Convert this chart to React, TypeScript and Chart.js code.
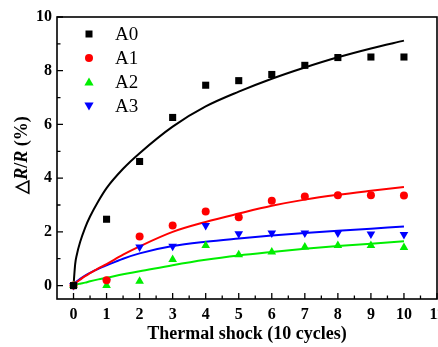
import React, { useEffect, useRef } from 'react';
import { Chart, registerables } from 'chart.js';

Chart.register(...registerables);

// ---- data ----
const cycles = [0, 1, 2, 3, 4, 5, 6, 7, 8, 9, 10];
const seriesA0 = [0, 2.47, 4.62, 6.26, 7.46, 7.63, 7.86, 8.2, 8.49, 8.51, 8.51];
const seriesA1 = [0, 0.2, 1.83, 2.24, 2.76, 2.54, 3.16, 3.32, 3.36, 3.36, 3.35];
const seriesA2 = [0, 0, 0.16, 0.97, 1.49, 1.15, 1.25, 1.44, 1.49, 1.49, 1.42];
const seriesA3 = [0, 0.16, 1.44, 1.46, 2.24, 1.93, 1.96, 1.96, 1.96, 1.92, 1.9];

const fitX = [0, 0.05, 0.1, 0.2, 0.35, 0.5, 0.75, 1, 1.5, 2, 3, 4, 5, 6, 7, 8, 9, 10];
const fitA0 = [0, 0.8, 1.15, 1.62, 2.15, 2.57, 3.14, 3.63, 4.35, 4.93, 5.92, 6.67, 7.22, 7.7, 8.12, 8.5, 8.83, 9.12];
const fitA1 = [0, 0.08, 0.13, 0.22, 0.35, 0.46, 0.64, 0.8, 1.15, 1.46, 2.0, 2.37, 2.68, 2.97, 3.2, 3.38, 3.53, 3.67];
const fitA2 = [0, 0.02, 0.04, 0.07, 0.11, 0.16, 0.23, 0.29, 0.42, 0.53, 0.76, 0.96, 1.12, 1.25, 1.37, 1.47, 1.56, 1.65];
const fitA3 = [0, 0.1, 0.16, 0.25, 0.37, 0.47, 0.62, 0.75, 1.0, 1.2, 1.47, 1.63, 1.75, 1.86, 1.96, 2.04, 2.12, 2.2];

const seriesNames = ['A0', 'A1', 'A2', 'A3'];
const seriesColors = ['#000000', '#ff0000', '#00ee00', '#0000ff'];
const xTickValues = [0, 1, 2, 3, 4, 5, 6, 7, 8, 9, 10, 11];
const yTickValues = [0, 2, 4, 6, 8, 10];
const xMinorTicks = [0.5, 1.5, 2.5, 3.5, 4.5, 5.5, 6.5, 7.5, 8.5, 9.5, 10.5];
const yMinorTicks = [1, 3, 5, 7, 9];
const xTitle = 'Thermal shock (10 cycles)';

const FONT = '"Liberation Serif", "Times New Roman", serif';
const CANVAS_W = 442;
const CANVAS_H = 347;

const toPts = (xs: number[], ys: number[]) => xs.map((x, i) => ({ x, y: ys[i] }));

function drawMarker(ctx: CanvasRenderingContext2D, kind: number, x: number, y: number, color: string) {
  ctx.fillStyle = color;
  ctx.beginPath();
  if (kind === 0) {
    ctx.rect(x - 3.5, y - 3.5, 7, 7);
  } else if (kind === 1) {
    ctx.arc(x, y, 4, 0, Math.PI * 2);
  } else if (kind === 2) {
    ctx.moveTo(x, y - 4.6);
    ctx.lineTo(x + 4.6, y + 3.4);
    ctx.lineTo(x - 4.6, y + 3.4);
    ctx.closePath();
  } else {
    ctx.moveTo(x, y + 4.6);
    ctx.lineTo(x + 4.6, y - 3.4);
    ctx.lineTo(x - 4.6, y - 3.4);
    ctx.closePath();
  }
  ctx.fill();
}

const framePlugin = {
  id: 'frameDecor',
  afterDraw(chart: any) {
    const { ctx, chartArea: a, scales } = chart;
    const xs = scales.x;
    const ys = scales.y;
    ctx.save();
    ctx.setLineDash([]);
    ctx.globalAlpha = 1;
    ctx.strokeStyle = '#000000';
    ctx.lineWidth = 1.6;
    ctx.strokeRect(a.left, a.top, a.right - a.left, a.bottom - a.top);
    ctx.lineWidth = 1.3;
    ctx.beginPath();
    xTickValues.forEach((v) => {
      const p = xs.getPixelForValue(v);
      ctx.moveTo(p, a.bottom);
      ctx.lineTo(p, a.bottom - 6);
    });
    xMinorTicks.forEach((v) => {
      const p = xs.getPixelForValue(v);
      ctx.moveTo(p, a.bottom);
      ctx.lineTo(p, a.bottom - 3.5);
    });
    yTickValues.forEach((v) => {
      const p = ys.getPixelForValue(v);
      ctx.moveTo(a.left, p);
      ctx.lineTo(a.left + 6, p);
    });
    yMinorTicks.forEach((v) => {
      const p = ys.getPixelForValue(v);
      ctx.moveTo(a.left, p);
      ctx.lineTo(a.left + 3.5, p);
    });
    ctx.stroke();

    // legend
    const lx = a.left + 32;
    const ly0 = a.top + 17;
    const step = 24;
    ctx.font = `19px ${FONT}`;
    ctx.textBaseline = 'middle';
    ctx.textAlign = 'left';
    seriesNames.forEach((name, i) => {
      const y = ly0 + i * step;
      drawMarker(ctx, i, lx, y, seriesColors[i]);
      ctx.fillStyle = '#000';
      ctx.fillText(name, lx + 26, y + 1);
    });

    // y title with italic R
    const segs = [
      { t: '\u25B3', f: `bold 18px ${FONT}` },
      { t: 'R', f: `italic bold 18px ${FONT}` },
      { t: '/', f: `bold 18px ${FONT}` },
      { t: 'R', f: `italic bold 18px ${FONT}` },
      { t: ' (%)', f: `bold 18px ${FONT}` },
    ];
    let total = 0;
    const widths = segs.map((s) => {
      ctx.font = s.f;
      const w = ctx.measureText(s.t).width;
      total += w;
      return w;
    });
    ctx.translate(22, (a.top + a.bottom) / 2 - 3);
    ctx.rotate(-Math.PI / 2);
    ctx.fillStyle = '#000';
    ctx.textBaseline = 'middle';
    let cx = -total / 2;
    segs.forEach((s, i) => {
      ctx.font = s.f;
      ctx.fillText(s.t, cx, 0);
      cx += widths[i];
    });
    ctx.restore();
  },
};

export default function App() {
  const ref = useRef<HTMLCanvasElement | null>(null);
  useEffect(() => {
    document.body.style.margin = '0';
    document.body.style.overflow = 'hidden';
    const canvas = ref.current;
    if (!canvas) return;
    const pointSets = [seriesA0, seriesA1, seriesA2, seriesA3];
    const fitSets = [fitA0, fitA1, fitA2, fitA3];
    const styles = ['rect', 'circle', 'triangle', 'triangle'];
    const radii = [5, 4, 5, 5];
    const datasets: any[] = [];
    pointSets.forEach((s, i) => {
      datasets.push({
        label: seriesNames[i],
        data: toPts(cycles, s),
        showLine: false,
        pointStyle: styles[i],
        pointRotation: i === 3 ? 180 : 0,
        pointRadius: radii[i],
        pointBackgroundColor: seriesColors[i],
        pointBorderColor: seriesColors[i],
        pointBorderWidth: 0,
      });
    });
    fitSets.forEach((s, i) => {
      datasets.push({
        label: seriesNames[i] + ' fit',
        data: toPts(fitX, s),
        showLine: true,
        borderColor: seriesColors[i],
        borderWidth: 2,
        pointRadius: 0,
        cubicInterpolationMode: 'monotone',
        fill: false,
      });
    });

    const chart = new Chart(canvas, {
      type: 'scatter',
      data: { datasets },
      options: {
        responsive: false,
        animation: false,
        layout: { padding: { left: 0, top: 17, right: 1, bottom: 0 } },
        plugins: { legend: { display: false }, tooltip: { enabled: false } },
        scales: {
          x: {
            type: 'linear',
            min: -0.5,
            max: 11,
            afterBuildTicks: (s: any) => {
              s.ticks = xTickValues.map((v) => ({ value: v }));
            },
            afterFit: (s: any) => {
              s.height = 48;
              s.paddingLeft = 0;
              s.paddingRight = 0;
            },
            grid: { display: false, drawTicks: false },
            border: { display: false },
            ticks: {
              color: '#000',
              padding: 6,
              maxRotation: 0,
              autoSkip: false,
              font: { family: FONT, size: 16, weight: 'bold' },
            },
            title: {
              display: true,
              text: xTitle,
              color: '#000',
              font: { family: FONT, size: 18, weight: 'bold' },
              padding: { top: 0, bottom: 2 },
            },
          },
          y: {
            type: 'linear',
            min: -0.5,
            max: 10,
            afterBuildTicks: (s: any) => {
              s.ticks = yTickValues.map((v) => ({ value: v }));
            },
            afterFit: (s: any) => {
              s.width = 57;
              s.paddingTop = 0;
              s.paddingBottom = 0;
            },
            grid: { display: false, drawTicks: false },
            border: { display: false },
            ticks: {
              color: '#000',
              padding: 5,
              autoSkip: false,
              font: { family: FONT, size: 16, weight: 'bold' },
            },
          },
        },
      },
      plugins: [framePlugin],
    } as any);
    return () => chart.destroy();
  }, []);

  return (
    <div style={{ width: 438, height: 347, position: 'relative', overflow: 'hidden' }}>
      <canvas ref={ref} width={CANVAS_W} height={CANVAS_H} style={{ display: 'block' }} />
    </div>
  );
}
